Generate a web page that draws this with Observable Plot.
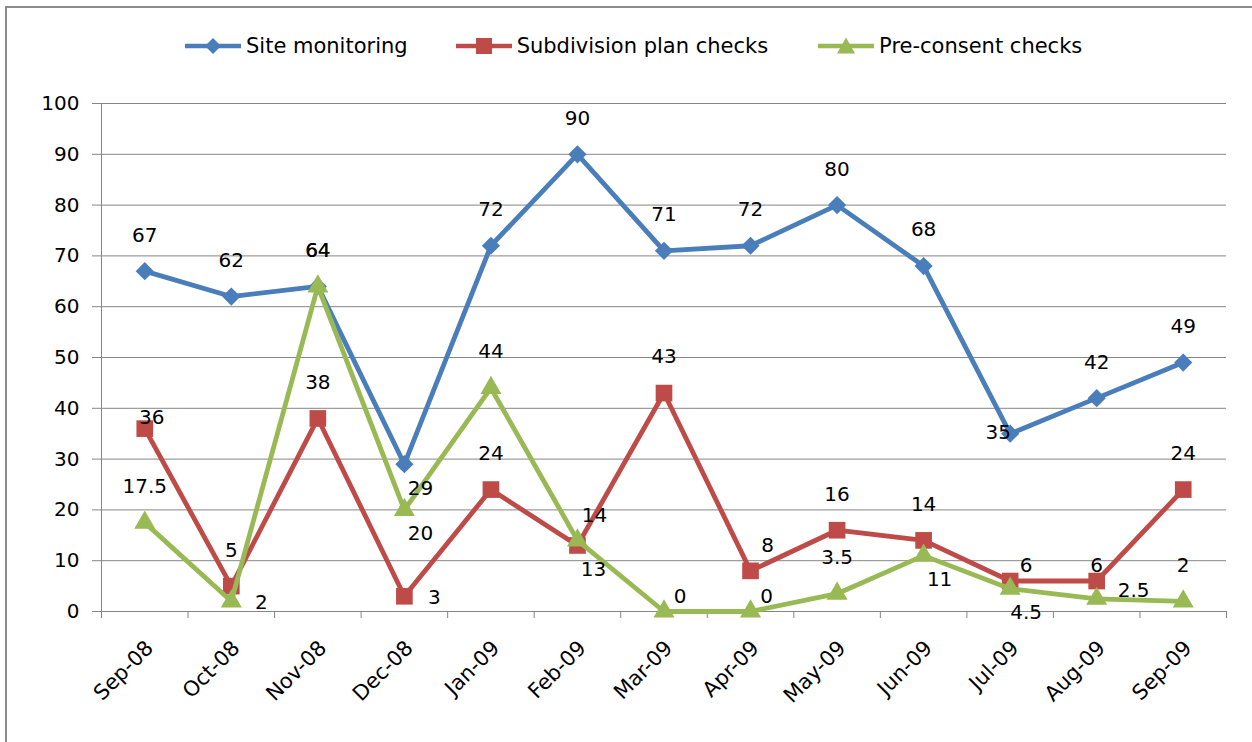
<!DOCTYPE html>
<html>
<head>
<meta charset="utf-8">
<script src="https://cdn.jsdelivr.net/npm/d3@7"></script>
<script src="https://cdn.jsdelivr.net/npm/@observablehq/plot@0.6"></script>
<style>
  html, body { margin: 0; padding: 0; background: #fff; overflow: hidden; }
  #wrap { position: relative; width: 1252px; height: 742px; font-family: "DejaVu Sans", sans-serif; }
  #frame { position: absolute; left: 5px; top: 6px; width: 1300px; height: 800px;
           border-left: 2px solid #8c8c8c; border-top: 2px solid #8c8c8c; pointer-events: none; }
  #legend { position: absolute; top: 34px; left: 185px; display: flex; align-items: center;
            font-size: 21px; color: #000; white-space: nowrap; }
  .item { display: flex; align-items: center; }
  .item svg { display: block; margin-right: 5px; }
  #chart { position: absolute; left: 0; top: 0; }
</style>
</head>
<body>
<div id="wrap">
  <div id="frame"></div>
  <div id="chart"></div>
  <div id="legend"></div>
</div>
<script>
// ---- data ----
const categories = ["Sep-08","Oct-08","Nov-08","Dec-08","Jan-09","Feb-09","Mar-09","Apr-09","May-09","Jun-09","Jul-09","Aug-09","Sep-09"];
const seriesNames = ["Site monitoring", "Subdivision plan checks", "Pre-consent checks"];
const siteMonitoring        = [67, 62, 64, 29, 72, 90, 71, 72, 80, 68, 35, 42, 49];
const subdivisionPlanChecks = [36, 5, 38, 3, 24, 13, 43, 8, 16, 14, 6, 6, 24];
const preConsentChecks      = [17.5, 2, 64, 20, 44, 14, 0, 0, 3.5, 11, 4.5, 2.5, 2];
const yTicks = [0, 10, 20, 30, 40, 50, 60, 70, 80, 90, 100];

// ---- label placement keys (style, separate from data) ----
const siteLabelPos       = ["t","t","t","br","t","t","t","t","t","t","l","t","t"];
const subdivLabelPos     = ["c","t","t","r","t","br","t","tr","t","t","tr2","ts","t"];
const preconsentLabelPos = ["t","r","t","br","t","tr","tr2","tr2","t","br","br","rr","t"];
const placements = {
  t: [0, -36], r: [30, 1], br: [16, 24], tr: [17, -25], tr2: [16, -15],
  ts: [0, -15], c: [7, -11], l: [-12, -1], rr: [37, -8]
};

// ---- styles ----
const colors = ["#4A7EBB", "#BE4B48", "#98B954"];
const symbols = ["diamond2", "square", "triangle"];
const radii = [8.2, 9.4, 7.8];

const seriesValues = [siteMonitoring, subdivisionPlanChecks, preConsentChecks];
const labelPos = [siteLabelPos, subdivLabelPos, preconsentLabelPos];
const rows = [];
seriesValues.forEach((vals, s) => vals.forEach((v, i) => rows.push({
  s, series: seriesNames[s], i, category: categories[i], value: v, pos: labelPos[s][i]
})));

const boundaries = d3.range(-0.5, categories.length, 1);
const axisGray = "#868686";

const marks = [
  Plot.gridY(yTicks, {stroke: axisGray, strokeOpacity: 1, strokeWidth: 1}),
  Plot.ruleX([-0.5], {stroke: axisGray, strokeWidth: 1}),
  Plot.ruleY([0], {stroke: axisGray, strokeWidth: 1}),
  Plot.axisY(yTicks, {tickSize: 9, tickPadding: 13, stroke: axisGray, fill: "#000", fontSize: 20, label: null}),
  Plot.axisX(boundaries, {tickSize: 7, tickFormat: () => "", stroke: axisGray, label: null}),
  Plot.axisX(d3.range(categories.length), {tickSize: 0, tickPadding: 33, tickRotate: -45, dx: 5,
    tickFormat: i => categories[i], fill: "#000", fontSize: 21, label: null})
];

seriesValues.forEach((vals, s) => {
  const data = rows.filter(d => d.s === s);
  marks.push(Plot.line(data, {x: "i", y: "value", stroke: colors[s], strokeWidth: 4.8, strokeLinejoin: "round"}));
  marks.push(Plot.dot(data, {x: "i", y: "value", symbol: symbols[s], r: radii[s], fill: colors[s], stroke: "none"}));
});

Object.entries(placements).forEach(([key, [dx, dy]]) => {
  marks.push(Plot.text(rows.filter(d => d.pos === key), {
    x: "i", y: "value", text: d => String(d.value), dx, dy, fontSize: 20, fill: "#000"
  }));
});

const chart = Plot.plot({
  width: 1252, height: 742,
  marginLeft: 101, marginRight: 26, marginTop: 103, marginBottom: 131,
  x: {type: "linear", domain: [-0.5, categories.length - 0.5]},
  y: {domain: [0, 100]},
  style: {fontFamily: "DejaVu Sans, sans-serif", fontSize: "20px", background: "transparent", overflow: "visible"},
  marks
});
document.getElementById("chart").appendChild(chart);

// ---- legend ----
const legend = document.getElementById("legend");
const gaps = [48, 50, 0];
seriesNames.forEach((name, s) => {
  const item = document.createElement("div");
  item.className = "item";
  item.style.marginRight = gaps[s] + "px";
  const c = colors[s];
  let marker;
  if (s === 0) marker = `<polygon points="28,2 36,10 28,18 20,10" fill="${c}"/>`;
  else if (s === 1) marker = `<rect x="20" y="2" width="16" height="16" fill="${c}"/>`;
  else marker = `<polygon points="28,1.5 37,17.5 19,17.5" fill="${c}"/>`;
  item.innerHTML = `<svg width="56" height="20"><line x1="0" y1="10" x2="56" y2="10" stroke="${c}" stroke-width="4.5"/>${marker}</svg><span>${name}</span>`;
  legend.appendChild(item);
});
</script>
</body>
</html>
